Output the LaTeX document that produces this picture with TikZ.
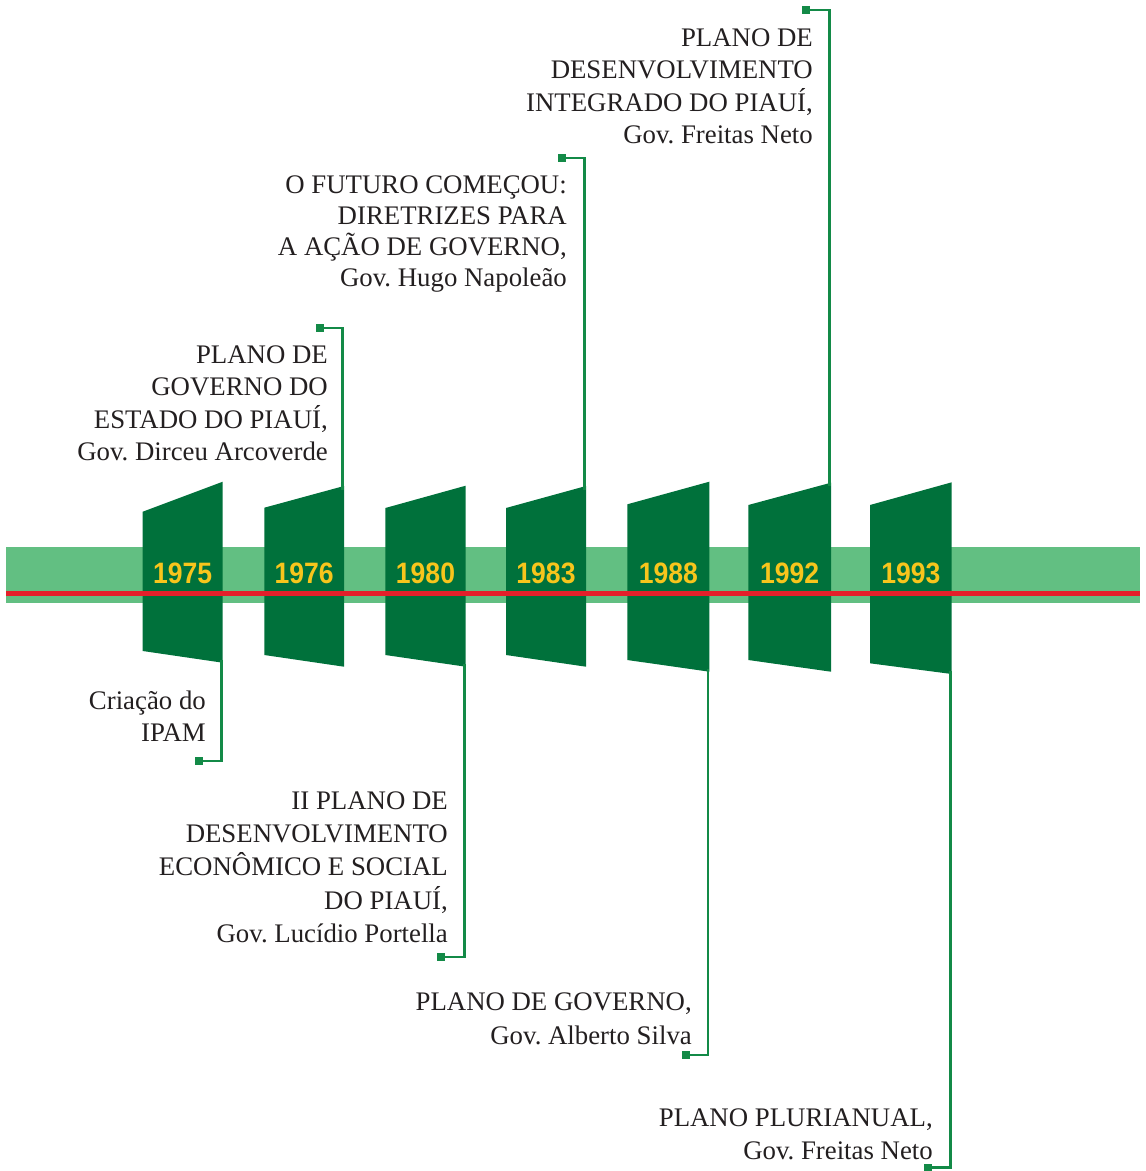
\documentclass[tikz,border=0pt]{standalone}
\usepackage{fontspec}
\setmainfont{Liberation Serif}
\newfontfamily\yearfont[FakeStretch=0.9]{Liberation Sans}
\definecolor{bandgreen}{HTML}{62BF82}
\definecolor{darkgreen}{HTML}{00713B}
\definecolor{linegreen}{HTML}{138A47}
\definecolor{redline}{HTML}{E3202A}
\definecolor{yearyellow}{HTML}{F7C51C}
\definecolor{txt}{HTML}{231F20}
\frenchspacing
\begin{document}
\begin{tikzpicture}[x=1pt,y=-1pt,
  bandstyle/.style={fill=bandgreen},
  trapstyle/.style={fill=darkgreen},
  yr/.style={font=\yearfont\bfseries\fontsize{29.5}{30}\selectfont, text=yearyellow, inner sep=0pt, anchor=base},
  conn/.style={draw=linegreen, line width=2.6pt},
  sq/.style={fill=linegreen, draw=none, minimum size=8pt, inner sep=0pt, rectangle},
  lbl/.style={font=\fontsize{26.8}{#1}\selectfont, text=txt, align=right, inner sep=0pt, anchor=north east},
  lbl/.default={32.5}]
\useasboundingbox (0,0) rectangle (1146,1171);
% band
\fill[bandstyle] (6,547) rectangle (1140,603);
% trapezoids
\fill[trapstyle] (142.7,511.7) -- (222.7,481.7) -- (222.7,662.7) -- (142.7,651) -- cycle;
\fill[trapstyle] (264.3,507.7) -- (344,486) -- (344,666.7) -- (264.3,655) -- cycle;
\fill[trapstyle] (385.3,508) -- (465.7,485.7) -- (465.7,666.7) -- (385.3,655) -- cycle;
\fill[trapstyle] (506,508) -- (586,486) -- (586,666.7) -- (506,655) -- cycle;
\fill[trapstyle] (627.3,504.3) -- (709.3,481.7) -- (709.3,671.7) -- (627.3,660) -- cycle;
\fill[trapstyle] (748.3,505) -- (831,482.7) -- (831,671.7) -- (748.3,660) -- cycle;
\fill[trapstyle] (870,505) -- (951.7,482.3) -- (951.7,674) -- (870,663.3) -- cycle;
% red line
\fill[redline] (6,591) rectangle (1140,595.6);
% years
\node[yr] (y75) at (182.7,583.3) {1975};
\node[yr] (y76) at (304.2,583.3) {1976};
\node[yr] (y80) at (425.5,583.3) {1980};
\node[yr] (y83) at (546,583.3) {1983};
\node[yr] (y88) at (668.3,583.3) {1988};
\node[yr] (y92) at (789.7,583.3) {1992};
\node[yr] (y93) at (910.9,583.3) {1993};
% connector anchors
\coordinate (c75) at (221.6,660);
\coordinate (c76) at (342.6,490);
\coordinate (c80) at (464.4,664);
\coordinate (c83) at (584.6,490);
\coordinate (c88) at (708,669);
\coordinate (c92) at (829.6,486);
\coordinate (c93) at (950.5,671);
% squares
\node[sq] (s75) at (199,761) {};
\node[sq] (s76) at (320,328) {};
\node[sq] (s80) at (441,957) {};
\node[sq] (s83) at (562,158) {};
\node[sq] (s88) at (686,1055) {};
\node[sq] (s92) at (806,10) {};
\node[sq] (s93) at (928,1167.5) {};
% connectors
\draw[conn] (c75) |- (s75);
\draw[conn] (c76) |- (s76);
\draw[conn] (c80) |- (s80);
\draw[conn] (c83) |- (s83);
\draw[conn] (c88) |- (s88);
\draw[conn] (c92) |- (s92);
\draw[conn] (c93) |- (s93);
% labels
\node[lbl] (t92) at (813,28.5) {PLANO DE\\DESENVOLVIMENTO\\INTEGRADO DO PIAUÍ,\\Gov. Freitas Neto};
\node[lbl=31] (t83) at (567,175.5) {O FUTURO COMEÇOU:\\DIRETRIZES PARA\\A AÇÃO DE GOVERNO,\\Gov. Hugo Napoleão};
\node[lbl] (t76) at (328,345.5) {PLANO DE\\GOVERNO DO\\ESTADO DO PIAUÍ,\\Gov. Dirceu Arcoverde};
\node[lbl] (t75) at (206,690.5) {Criação do\\IPAM};
\node[lbl=33.2] (t80) at (448,791.5) {II PLANO DE\\DESENVOLVIMENTO\\ECONÔMICO E SOCIAL\\DO PIAUÍ,\\Gov. Lucídio Portella};
\node[lbl=34] (t88) at (692,992.5) {PLANO DE GOVERNO,\\Gov. Alberto Silva};
\node[lbl=33] (t93) at (933,1108.5) {PLANO PLURIANUAL,\\Gov. Freitas Neto};
\end{tikzpicture}
\end{document}
